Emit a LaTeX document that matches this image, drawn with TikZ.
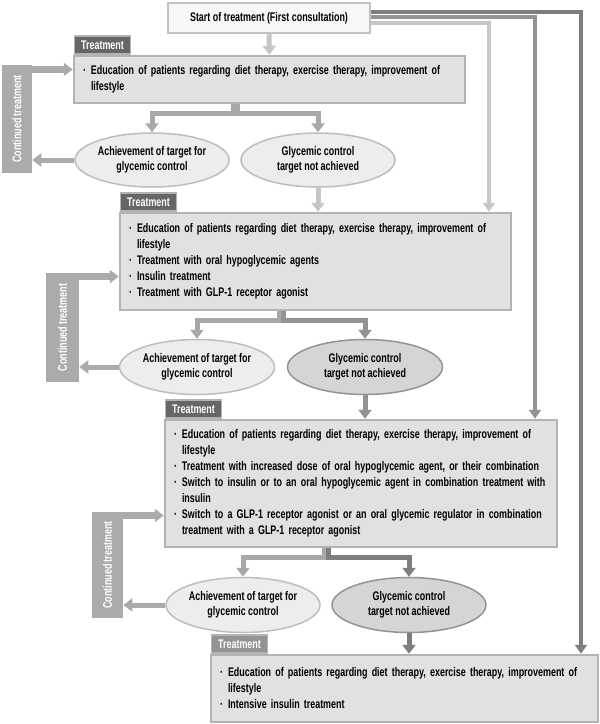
\documentclass[tikz,border=0pt]{standalone}
\usepackage{fontspec}
\setmainfont{Liberation Sans}[FakeStretch=0.715]
\usetikzlibrary{arrows.meta,calc,shapes.geometric}

\definecolor{boxfill}{HTML}{E1E1E1}
\definecolor{boxline}{HTML}{B3B3B3}
\definecolor{tabfill}{HTML}{666666}
\definecolor{barfill}{HTML}{ABABAB}
\definecolor{lvlA}{HTML}{C6C6C6}
\definecolor{lvlB}{HTML}{A8A8A8}
\definecolor{lvlC}{HTML}{939393}
\definecolor{lvlD}{HTML}{7E7E7E}
\definecolor{ovlfill}{HTML}{EDEDED}
\definecolor{ovlline}{HTML}{BDBDBD}
\definecolor{ovldark}{HTML}{D5D5D5}

\tikzset{every picture/.style={line width=0.5pt}}
\tikzset{
  txt/.style={font=\bfseries\fontsize{12.5}{16}\selectfont},
  box/.style={txt, draw=boxline, fill=boxfill, line width=2.5pt, align=left, inner xsep=9pt, inner ysep=0pt},
  tab/.style={draw=boxline, fill=tabfill, line width=1.5pt, text=white, font=\bfseries\fontsize{12.5}{14}\selectfont, minimum width=56pt, minimum height=18pt, inner sep=0pt, anchor=south west},
  oval/.style={ellipse, draw=ovlline, fill=ovlfill, line width=1.5pt, align=center, inner sep=0pt, font=\bfseries\fontsize{12.5}{15.5}\selectfont},
  ovaldark/.style={oval, draw=lvlC, fill=ovldark},
  contbar/.style={fill=barfill, rotate=90, text=white, font=\bfseries\fontsize{12.5}{14}\selectfont, inner sep=0pt},
  arr/.style={line width=5pt, -{Triangle[width=13pt,length=9pt]}},
  feed/.style={arr, barfill},
  side/.style={line width=4pt, -{Triangle[width=12pt,length=9pt]}},
}
\newcommand{\bl}{\makebox[8pt][l]{·}}
\newcommand{\hg}{\hspace*{8pt}}

\begin{document}
\begin{tikzpicture}[x=1pt,y=1pt,yscale=-1,xscale=1]
\useasboundingbox (0,0) rectangle (600,724);

%Shape: Rectangle
\node (first) [txt, draw=boxline!80, fill=white!97!black, line width=2.5pt, minimum width=202pt, minimum height=30pt, inner sep=0pt] at (269,18) {Start of treatment (First consultation)};

%Shape: Rectangle
\node (box1) [box, text width=373pt, minimum height=47pt] at (269.5,79.5) {\bl Education of patients regarding diet therapy, exercise therapy, improvement of\\\hg lifestyle};
\node (tab1) [tab] at ($(box1.north west)+(1,0)$) {Treatment};
%Shape: Ellipse
\node (ach1) [oval, minimum width=154pt, minimum height=54pt] at (152,160) {Achievement of target for\\glycemic control};
\node (nach1) [oval, minimum width=154pt, minimum height=54pt] at (318,160) {Glycemic control\\target not achieved};
%Shape: Rectangle
\node (bar1) [contbar, minimum width=108pt, minimum height=30pt] at (17,119) {Continued treatment};

%Shape: Rectangle
\node (box2) [box, text width=373pt, minimum height=97pt] at (315.5,261.5) {\bl Education of patients regarding diet therapy, exercise therapy, improvement of\\\hg lifestyle\\\bl Treatment with oral hypoglycemic agents\\\bl Insulin treatment\\\bl Treatment with GLP-1 receptor agonist};
\node (tab2) [tab] at ($(box2.north west)+(1,0)$) {Treatment};
%Shape: Ellipse
\node (ach2) [oval, minimum width=155pt, minimum height=55pt] at (197,367) {Achievement of target for\\glycemic control};
\node (nach2) [ovaldark, minimum width=155pt, minimum height=55pt] at (365,367) {Glycemic control\\target not achieved};
%Shape: Rectangle
\node (bar2) [contbar, minimum width=109pt, minimum height=33pt] at (62.5,327.5) {Continued treatment};

%Shape: Rectangle
\node (box3) [box, text width=374pt, minimum height=127pt] at (361,483.5) {\bl Education of patients regarding diet therapy, exercise therapy, improvement of\\\hg lifestyle\\\bl Treatment with increased dose of oral hypoglycemic agent, or their combination\\\bl Switch to insulin or to an oral hypoglycemic agent in combination treatment with\\\hg insulin\\\bl Switch to a GLP-1 receptor agonist or an oral glycemic regulator in combination\\\hg treatment with a GLP-1 receptor agonist};
\node (tab3) [tab] at ($(box3.north west)+(1,0)$) {Treatment};
%Shape: Ellipse
\node (ach3) [oval, minimum width=154pt, minimum height=55pt] at (243,605) {Achievement of target for\\glycemic control};
\node (nach3) [ovaldark, minimum width=154pt, minimum height=55pt] at (409,605) {Glycemic control\\target not achieved};
%Shape: Rectangle
\node (bar3) [contbar, minimum width=106pt, minimum height=31pt] at (107.5,565) {Continued treatment};

%Shape: Rectangle
\node (box4) [box, text width=369pt, minimum height=67pt] at (404.5,688.5) {\bl Education of patients regarding diet therapy, exercise therapy, improvement of\\\hg lifestyle\\\bl Intensive insulin treatment};
\node (tab4) [tab, fill=lvlC] at ($(box4.north west)+(1,0)$) {Treatment};

%Straight Lines
\draw [arr, lvlA] (first.south) -- (box1.north);
\coordinate (fork1) at ($(ach1.north)!.5!(nach1.north)$);
\draw [arr, lvlB] ($(fork1 |- box1.south)+(-2,0)$) -- ++(0,9) -| (ach1.north);
\draw [arr, lvlB] ($(fork1 |- box1.south)+(2,0)$) -- ++(0,9) -| (nach1.north);
\draw [arr, lvlA] (nach1.south) -- (nach1.south |- box2.north);
\coordinate (fork2) at ($(ach2.north)!.5!(nach2.north)$);
\draw [arr, lvlB] ($(fork2 |- box2.south)+(-2,0)$) -- ++(0,9) -| (ach2.north);
\draw [arr, lvlC] ($(fork2 |- box2.south)+(2,0)$) -- ++(0,9) -| (nach2.north);
\draw [arr, lvlC] (nach2.south) -- (nach2.south |- box3.north);
\coordinate (fork3) at ($(ach3.north)!.5!(nach3.north)$);
\draw [arr, lvlB] ($(fork3 |- box3.south)+(-2,0)$) -- ++(0,9) -| (ach3.north);
\draw [arr, lvlD] ($(fork3 |- box3.south)+(2,0)$) -- ++(0,9) -| (nach3.north);
\draw [arr, lvlD] (nach3.south) -- (nach3.south |- box4.north);

%Straight Lines
\coordinate (t1) at (489,23);
\coordinate (t2) at (535,17);
\coordinate (t3) at (581,12);
\draw [side, lvlA] (first.east |- t1) -- (t1) -- (t1 |- box2.north);
\draw [side, lvlC] (first.east |- t2) -- (t2) -- (t2 |- box3.north);
\draw [side, lvlD] (first.east |- t3) -- (t3) -- (t3 |- box4.north);

%Straight Lines
\coordinate (in1) at (32,69.5);
\coordinate (in2) at (79,276.5);
\coordinate (in3) at (123,515.5);
\draw [feed, line width=7pt] (in1) -- (in1 -| box1.west);
\draw [feed, line width=7pt] (in2) -- (in2 -| box2.west);
\draw [feed, line width=7pt] (in3) -- (in3 -| box3.west);
\draw [feed] (ach1.west) -- (ach1.west -| bar1.south);
\draw [feed] (ach2.west) -- (ach2.west -| bar2.south);
\draw [feed] (ach3.west) -- (ach3.west -| bar3.south);
\end{tikzpicture}
\end{document}
